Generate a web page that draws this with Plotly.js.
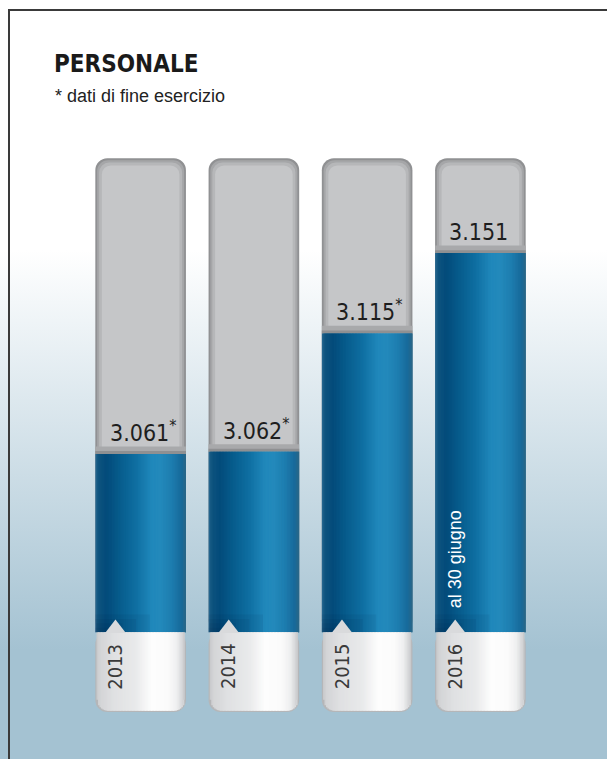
<!DOCTYPE html>
<html>
<head>
<meta charset="utf-8">
<script src="https://cdn.plot.ly/plotly-3.0.1.min.js"></script>
<style>
  html, body { margin: 0; padding: 0; }
  body {
    width: 607px; height: 759px; overflow: hidden; position: relative;
    background: linear-gradient(to bottom, #ffffff 0px, #ffffff 250px, #a4c2d2 650px, #a4c2d2 759px);
  }
  #chart { width: 607px; height: 759px; position: absolute; left: 0; top: 0; }
  #frame { position: absolute; left: 8px; top: 9px; width: 620px; height: 780px;
           border-top: 2px solid #3a3a3a; border-left: 2px solid #3a3a3a; pointer-events: none; }
</style>
</head>
<body>
<div id="chart"></div>
<div id="frame"></div>
<script>
// ---- data ----
const years = ['2013', '2014', '2015', '2016'];
const values = [3061, 3062, 3115, 3151];
const valueLabels = ['3.061', '3.062', '3.115', '3.151'];
const endOfYear = [true, true, true, false];
const noteText = 'al 30 giugno';
const noteIndex = 3;

// ---- column geometry in data units ----
const colTop = 3193.5;
const colBase = 2981.1;
const colBottom = 2945.4;

const COND = "'DejaVu Sans Condensed', 'Liberation Sans Narrow', sans-serif";
const REG = "'Liberation Sans', Arial, sans-serif";
const xs = years.map((_, i) => i);
const FULL = 0.8;

const W = 607, H = 759, ML = 84, MR = 70, MT = 150, MB = 39;
const pw = W - ML - MR, ph = H - MT - MB;
const yRange = [2941.8, 3197.2];
const pxPerUnitY = ph / (yRange[1] - yRange[0]);
const barPx = FULL * pw / 4;

function hex2rgb(h) { return [1, 3, 5].map(k => parseInt(h.substr(k, 2), 16)); }
function gradAt(stops, t) {
  for (let k = 1; k < stops.length; k++) {
    if (t <= stops[k][0]) {
      const a = stops[k - 1], b = stops[k];
      const f = (t - a[0]) / (b[0] - a[0]);
      const ca = hex2rgb(a[1]), cb = hex2rgb(b[1]);
      const c = ca.map((v, j) => Math.round(v + (cb[j] - v) * f));
      return 'rgb(' + c.join(',') + ')';
    }
  }
  return stops[stops.length - 1][1];
}

const traces = [];
function layer(bases, heights, color, x0frac, x1frac, radius) {
  traces.push({
    type: 'bar', x: xs, base: bases, y: heights,
    width: FULL * (x1frac - x0frac), offset: -FULL / 2 + FULL * x0frac,
    marker: { color: color, line: { width: 0 }, cornerradius: radius || 0 },
    hoverinfo: 'skip', showlegend: false
  });
}
const baseArr = xs.map(() => colBase);

// grey columns (nested layers for inner shadow)
layer(baseArr, xs.map(() => colTop - colBase), '#909193', 0, 1, 12);
layer(baseArr, xs.map(() => colTop - 0.9 - colBase), '#a5a6a8', 0.02, 0.98, 11);
layer(baseArr, xs.map(() => colTop - 1.9 - colBase), '#b6b7b9', 0.042, 0.958, 10);
layer(baseArr, xs.map(() => colTop - 3.2 - colBase), '#c5c6c8', 0.072, 0.928, 9);

// darker band above the blue
layer(values, xs.map(() => 3.4), '#a8a9ab', 0, 1, 0);
layer(values, xs.map(() => 1.3), '#8f9092', 0, 1, 0);

// blue bars as horizontal gradient slices
const blueStops = [[0, '#2a6a93'], [0.03, '#0f547f'], [0.12, '#034b7a'], [0.25, '#065a8a'],
  [0.45, '#0f6fa2'], [0.62, '#2088bb'], [0.72, '#2389bb'], [0.85, '#1d7cae'],
  [0.95, '#17699a'], [1, '#2b6686']];
const N = 60;
for (let s = 0; s < N; s++) {
  const a = s / N, b = (s + 1) / N;
  layer(baseArr, values.map(v => v - colBase), gradAt(blueStops, (a + b) / 2), a, Math.min(1, b + 0.02), 0);
}
// soft shade at the bottom of the blue
for (let k = 1; k <= 4; k++) {
  layer(baseArr, xs.map(() => 2 * k), 'rgba(0,25,55,0.06)', 0, 0.15 * k, 0);
}

// white label section: rounded outer shell + gradient slices following the rounded bottom
layer(baseArr, xs.map(() => colBottom - colBase), '#b5b6b8', 0, 1, 12);
const whiteStops = [[0, '#c4c5c7'], [0.05, '#d3d4d6'], [0.2, '#dfe0e2'], [0.45, '#e9eaeb'],
  [0.62, '#fdfdfd'], [0.8, '#fbfbfb'], [0.9, '#eeeff0'], [0.96, '#d4d5d7'], [1, '#bdbebf']];
const inset = 1.2 / barPx, R = 11;
for (let s = 0; s < N; s++) {
  const a = inset + (1 - 2 * inset) * s / N, b = inset + (1 - 2 * inset) * (s + 1) / N;
  const mid = (a + b) / 2;
  const d = Math.min(a, 1 - b) * barPx - 1.2;
  let raisePx = 1.2;
  if (d < R) raisePx += R - Math.sqrt(Math.max(0, R * R - (R - Math.max(d, 0)) * (R - Math.max(d, 0))));
  layer(baseArr, xs.map(() => colBottom + raisePx / pxPerUnitY - colBase),
    gradAt(whiteStops, mid), a, Math.min(1 - inset, b + 0.012), 0);
}

// notch (small triangle pointing up into the blue)
traces.push({
  type: 'scatter', mode: 'markers', x: xs.map(i => i - 0.222), y: xs.map(() => colBase + 1.7),
  marker: { symbol: 'triangle-up', size: 18, color: '#d9dadc', line: { width: 0 } },
  hoverinfo: 'skip', showlegend: false, cliponaxis: false
});

const annotations = [];
xs.forEach(i => {
  annotations.push({
    x: i + (endOfYear[i] ? 0.02 : -0.02), y: values[i], xref: 'x', yref: 'y',
    text: valueLabels[i] + (endOfYear[i] ? '<sup>*</sup>' : ''),
    showarrow: false, yanchor: 'bottom', xanchor: 'center', yshift: 6,
    font: { family: COND, size: 23, color: '#1e1e1e' }
  });
  annotations.push({
    x: i - 0.222, y: colBase, xref: 'x', yref: 'y', text: years[i],
    showarrow: false, textangle: -90, yanchor: 'top', xanchor: 'center', yshift: -9,
    font: { family: COND, size: 20, color: '#3a3a3a' }
  });
});
annotations.push({
  x: noteIndex - 0.224, y: colBase, xref: 'x', yref: 'y', text: noteText,
  showarrow: false, textangle: -90, yanchor: 'bottom', xanchor: 'center', yshift: 22,
  font: { family: REG, size: 18, color: '#ffffff' }
});
annotations.push({
  x: (53 - ML) / pw, y: (H - MB - 96) / ph, xref: 'paper', yref: 'paper', text: '* dati di fine esercizio',
  showarrow: false, xanchor: 'left', yanchor: 'middle',
  font: { family: REG, size: 18, color: '#222222' }
});

const layout = {
  width: W, height: H,
  margin: { l: ML, r: MR, t: MT, b: MB },
  paper_bgcolor: 'rgba(0,0,0,0)', plot_bgcolor: 'rgba(0,0,0,0)',
  barmode: 'overlay', showlegend: false,
  title: {
    text: '<b>PERSONALE</b>', x: 54 / W, xanchor: 'left', xref: 'container',
    y: 1 - 64 / H, yanchor: 'middle', yref: 'container',
    font: { family: COND, size: 24, color: '#1a1a1a' }
  },
  xaxis: { type: 'linear', range: [-0.5, 3.5], visible: false, fixedrange: true },
  yaxis: { range: yRange, visible: false, fixedrange: true },
  annotations: annotations
};

Plotly.newPlot('chart', traces, layout, { displayModeBar: false, staticPlot: true });
</script>
</body>
</html>
